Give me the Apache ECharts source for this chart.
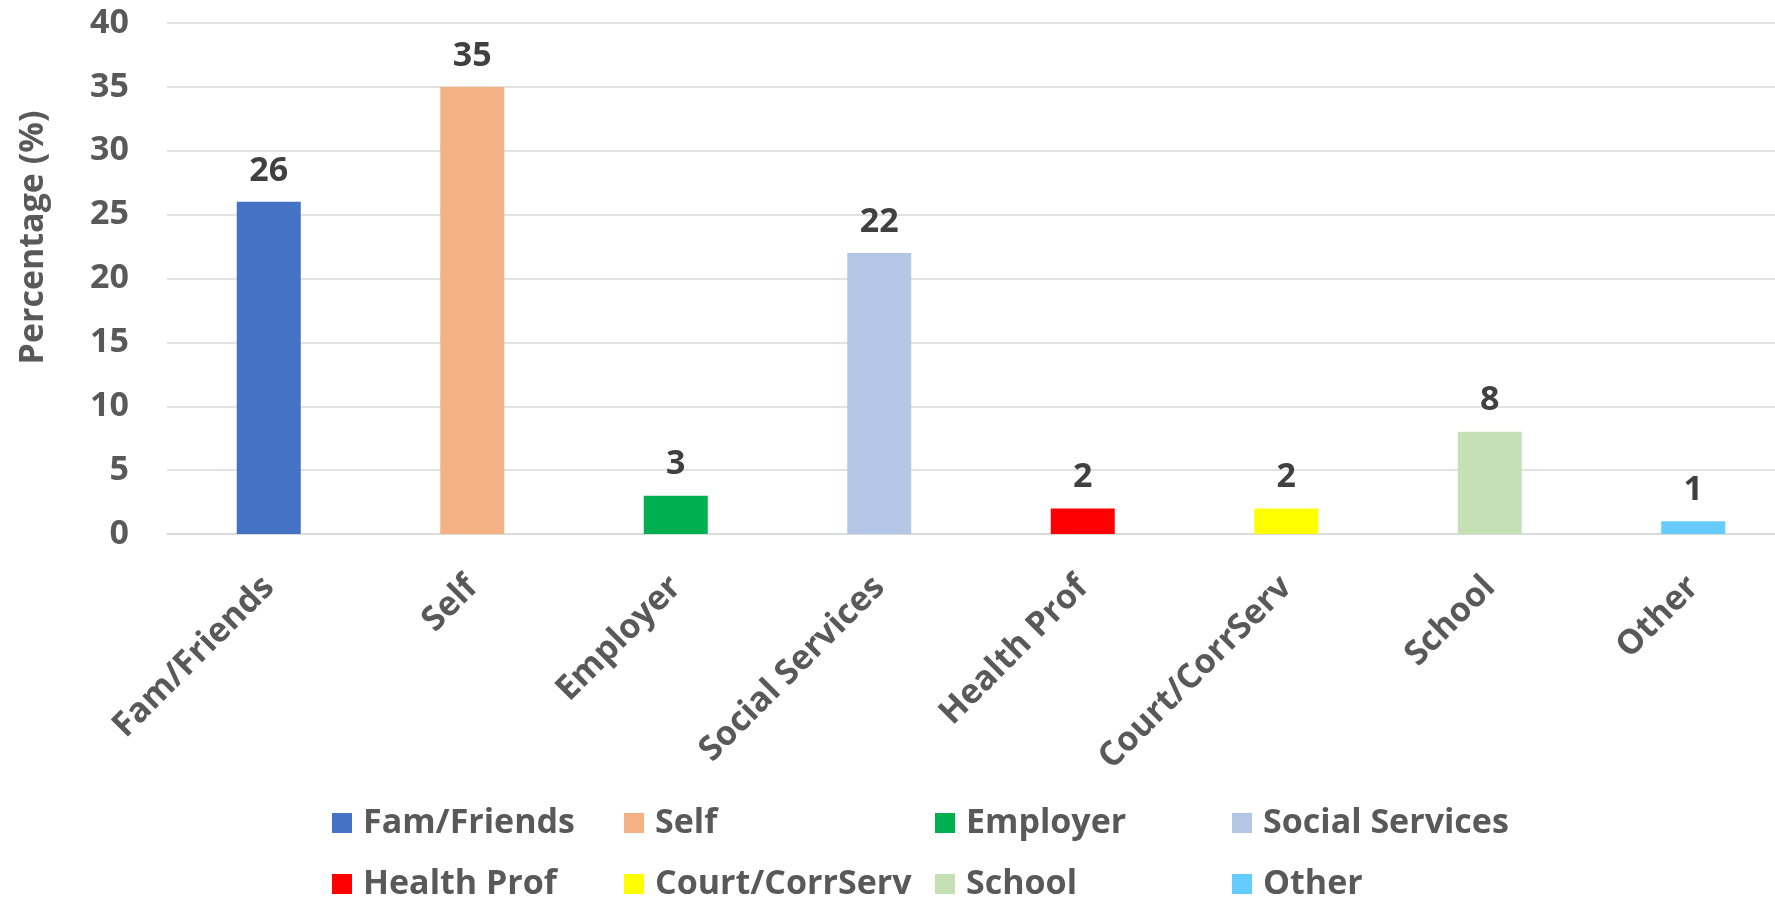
<!DOCTYPE html>
<html>
<head>
<meta charset="utf-8">
<script src="https://cdn.jsdelivr.net/npm/echarts@6/dist/echarts.min.js"></script>
<style>html,body{margin:0;padding:0;background:#fff}#c{width:1775px;height:904px}</style>
</head>
<body>
<div id="c"></div>
<script>
const categories = ['Fam/Friends','Self','Employer','Social Services','Health Prof','Court/CorrServ','School','Other'];
const values = [26, 35, 3, 22, 2, 2, 8, 1];
const colors = ['#4472C4','#F4B183','#00B050','#B4C7E7','#FF0000','#FFFF00','#C5E0B4','#66CCFF'];
const yTicks = {min: 0, max: 40, interval: 5};
const yName = 'Percentage (%)';

const FONT = '"Open Sans", sans-serif';
const FS = 34;
const chart = echarts.init(document.getElementById('c'), null, {renderer: 'canvas'});

const series = categories.map((name, i) => ({
  name: name,
  type: 'bar',
  stack: 'all',
  barWidth: 64,
  itemStyle: {color: colors[i]},
  label: {show: true, position: 'top', distance: 14, color: '#404040', fontSize: FS, fontWeight: 'bold', fontFamily: FONT},
  data: categories.map((c, j) => j === i ? values[i] : '-')
}));

const legendCols = [332, 624, 935, 1232];
const legends = legendCols.map((x, k) => ({
  orient: 'vertical',
  left: x, top: 806, padding: 0,
  itemWidth: 20, itemHeight: 20, itemGap: 27,
  icon: 'rect',
  data: [categories[k], categories[k + 4]],
  textStyle: {color: '#595959', fontSize: FS, fontWeight: 'bold', fontFamily: FONT, lineHeight: 34, padding: [0, 0, 0, 6]}
}));

chart.setOption({
  animation: false,
  backgroundColor: '#fff',
  grid: {left: 167, top: 23, width: 1628, height: 511, outerBoundsMode: 'none'},
  legend: legends,
  xAxis: {
    type: 'category',
    data: categories,
    axisTick: {show: false},
    axisLine: {lineStyle: {color: '#d9d9d9', width: 1.5}},
    axisLabel: {rotate: 45, margin: 48, color: '#595959', fontSize: FS, fontWeight: 'bold', fontFamily: FONT, interval: 0}
  },
  yAxis: {
    type: 'value',
    min: yTicks.min, max: yTicks.max, interval: yTicks.interval,
    name: yName, nameLocation: 'middle', nameGap: 117, nameRotate: 90,
    nameTextStyle: {color: '#595959', fontSize: FS, fontWeight: 'bold', fontFamily: FONT, padding: [0, 0, 0, 82]},
    axisLine: {show: false}, axisTick: {show: false},
    splitLine: {lineStyle: {color: '#d9d9d9', width: 1.5}},
    axisLabel: {margin: 38, color: '#595959', fontSize: FS, fontWeight: 'bold', fontFamily: FONT}
  },
  series: series
});
</script>
</body>
</html>
